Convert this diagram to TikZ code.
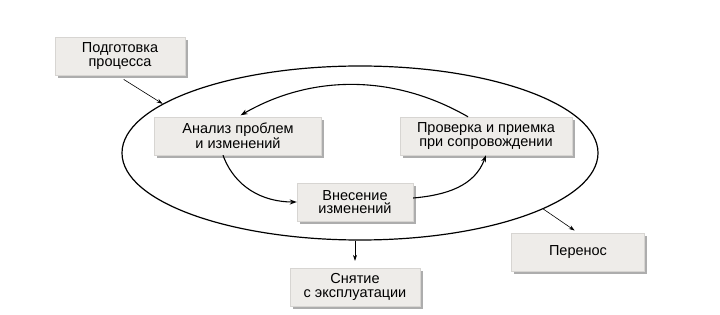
\documentclass[tikz,border=0pt]{standalone}
\usepackage{fontspec}
\setmainfont{Liberation Sans}
\usetikzlibrary{arrows.meta,shapes.geometric,shadows}

\definecolor{boxfill}{RGB}{238,236,233}
\definecolor{boxline}{RGB}{215,213,210}

\tikzset{
  stage/.style={draw=boxline, fill=boxfill, align=center, inner sep=2pt,
    minimum height=38pt, font=\fontsize{14.5}{13.5}\selectfont,
    drop shadow={shadow xshift=2.5pt, shadow yshift=-3pt, fill=gray!80, opacity=.8}},
  flow/.style={line width=1.1pt, -{Stealth[length=7pt,width=5pt]}},
  link/.style={line width=0.6pt, -{Stealth[length=6pt,width=4pt]}}
}

\begin{document}
\begin{tikzpicture}[x=1pt,y=1pt]
\useasboundingbox (0,0) rectangle (720,-315);

\node[draw, ellipse, line width=1.2pt, minimum width=476pt, minimum height=174pt, inner sep=0pt] (cycle) at (360,-153) {};

\node[stage, minimum width=130pt] (prep) at (120,-56) {Подготовка\\процесса};
\node[stage, minimum width=167pt] (analysis) at (238,-136) {Анализ проблем\\и изменений};
\node[stage, minimum width=172pt] (check) at (486,-136) {Проверка и приемка\\при сопровождении};
\node[stage, minimum width=116pt] (change) at (355,-202) {Внесение\\изменений};
\node[stage, minimum width=130pt] (retire) at (355,-287) {Снятие\\с эксплуатации};
\node[stage, minimum width=133pt] (migrate) at (578,-252) {Перенос};

% inner cycle
\draw[flow, shorten >=3pt] ([xshift=-18pt]check.north) to[out=150,in=30,looseness=0.95] (analysis.north);
\draw[flow] ([xshift=-15pt]analysis.south) to[out=-70,in=180] (change.west);
\draw[flow] ([yshift=4pt]change.east) to[out=5,in=-110] (check.south);

% outer links
\draw[link, shorten <=8pt] ([xshift=-3pt]prep.south) -- (cycle.166);
\draw[link, shorten >=4pt] (cycle.-17) -- ([xshift=0pt]migrate.north);
\draw[link, shorten >=7pt] (cycle.south -| retire.north) -- (retire.north);
\end{tikzpicture}
\end{document}
